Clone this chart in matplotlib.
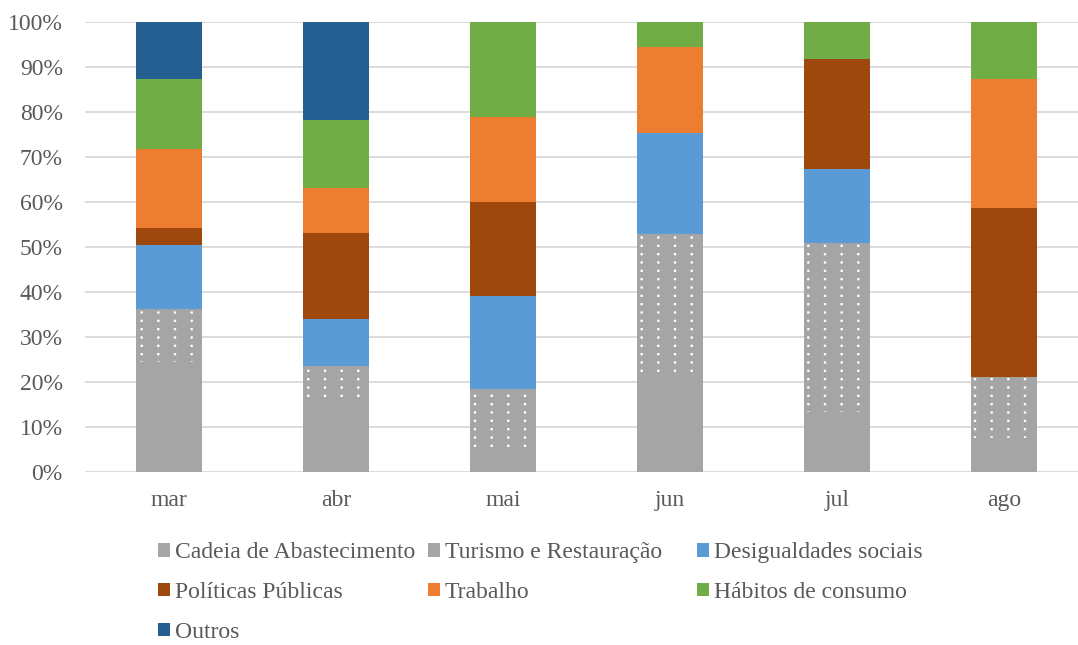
import matplotlib.pyplot as plt
import matplotlib.hatch as mhatch
import numpy as np
from matplotlib.patches import Patch
from matplotlib.path import Path

plt.rcParams['font.family'] = ['Liberation Serif', 'DejaVu Serif']
plt.rcParams['hatch.linewidth'] = 0.8

# Data (percent share per month)
months = ['mar', 'abr', 'mai', 'jun', 'jul', 'ago']
series = ['Cadeia de Abastecimento', 'Turismo e Restauração', 'Desigualdades sociais',
          'Políticas Públicas', 'Trabalho', 'Hábitos de consumo', 'Outros']
cadeia = [24.4, 16.2, 5.1, 21.1, 13.3, 7.6]
turismo = [11.8, 7.4, 13.3, 31.8, 37.6, 13.5]
desigualdades = [14.2, 10.4, 20.7, 22.4, 16.4, 0.0]
politicas = [3.8, 19.1, 20.9, 0.0, 24.5, 37.6]
trabalho = [17.6, 10.0, 18.9, 19.1, 0.0, 28.6]
habitos = [15.5, 15.1, 21.1, 5.6, 8.2, 12.7]
outros = [12.7, 21.8, 0.0, 0.0, 0.0, 0.0]

colors = ['#A5A5A5', '#A5A5A5', '#5B9BD5', '#9E480E', '#ED7D31', '#70AD47', '#255E91']
text_color = '#595959'


# small square dots on an aligned grid (like the Excel "dotted" pattern)
class GridDots(mhatch.HatchPatternBase):
    def __init__(self, hatch, density):
        n = hatch.count('.')
        self.cols, self.rows = 6 * n, 12 * n
        self.num_vertices = self.cols * self.rows * 5

    def set_vertices_and_codes(self, vertices, codes):
        s = 0.006
        sq = np.array([[-s, -s], [s, -s], [s, s], [-s, s], [-s, -s]])
        xs = (np.arange(self.cols) + 0.5) / self.cols
        ys = (np.arange(self.rows) + 0.5) / self.rows
        vertices[:] = np.concatenate([sq + (xx, yy) for yy in ys for xx in xs])
        codes[:] = np.tile([Path.MOVETO, Path.LINETO, Path.LINETO, Path.LINETO, Path.CLOSEPOLY],
                           self.cols * self.rows)


mhatch._hatch_types = [t for t in mhatch._hatch_types if t is not mhatch.SmallFilledCircles] + [GridDots]

fig = plt.figure(figsize=(10.78, 6.45), dpi=100)
ax = fig.add_axes([85 / 1078, 173 / 645, 993 / 1078, 450 / 645])

x = np.arange(len(months))
bottom = np.zeros(len(months))
handles = []
for name, vals, c in zip(series, [cadeia, turismo, desigualdades, politicas, trabalho, habitos, outros], colors):
    vals = np.array(vals)
    if name == 'Turismo e Restauração':
        ax.bar(x, vals, 0.4, bottom=bottom, color=c, edgecolor='white', linewidth=0,
               hatch='.', zorder=3)
        handles.append(Patch(facecolor=c, edgecolor='white', hatch='.', linewidth=0))
    else:
        ax.bar(x, vals, 0.4, bottom=bottom, color=c, linewidth=0, zorder=3)
        handles.append(Patch(facecolor=c, linewidth=0))
    bottom += vals

ax.set_xlim(-0.503, 5.443)
ax.set_ylim(0, 100)
ax.set_yticks(np.arange(0, 101, 10))
ax.set_yticklabels([f'{v}%' for v in range(0, 101, 10)])
ax.set_xticks(x)
ax.set_xticklabels(months)
ax.yaxis.grid(True, color='#D9D9D9', linewidth=1.3, zorder=0)
ax.set_axisbelow(True)
for s in ax.spines.values():
    s.set_visible(False)
ax.tick_params(axis='both', length=0, labelsize=17, colors=text_color)
ax.tick_params(axis='y', pad=16)
ax.tick_params(axis='x', pad=13)

# Legend laid out in three columns like the original
cols = [[0, 3, 6], [1, 4], [2, 5]]
xpos = [158, 428, 697]
for idx, xp in zip(cols, xpos):
    leg = fig.legend([handles[i] for i in idx], [series[i] for i in idx],
                     loc='upper left', bbox_to_anchor=(xp / 1078, 1 - 542 / 645),
                     frameon=False, fontsize=17, handlelength=0.52, handleheight=0.52,
                     handletextpad=0.2, labelspacing=0.8, borderpad=0, borderaxespad=0)
    for t in leg.get_texts():
        t.set_color(text_color)

fig.savefig('out.png', dpi=100)
